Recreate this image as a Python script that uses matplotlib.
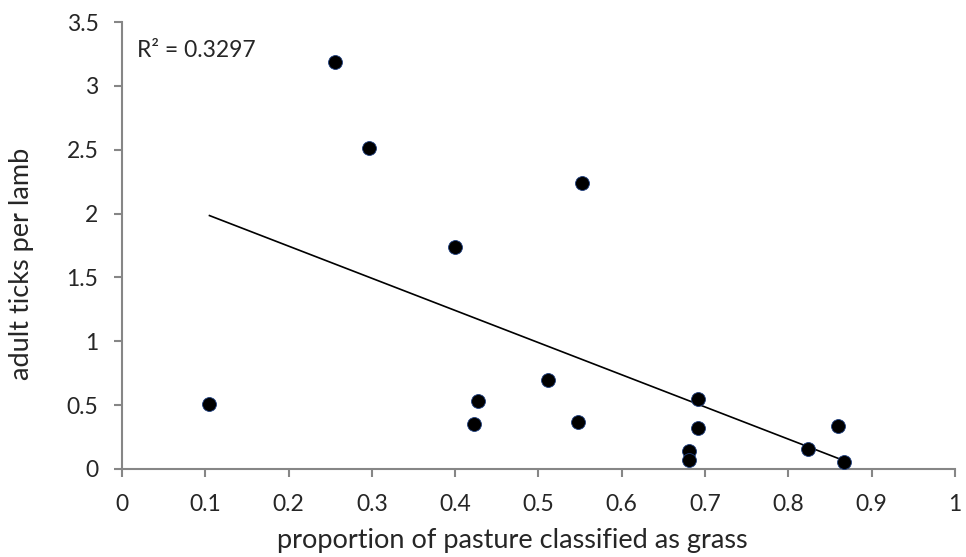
import numpy as np
import matplotlib
matplotlib.use("Agg")
from matplotlib import pyplot as plt

# proportion of pasture classified as grass vs adult ticks per lamb
grass = [0.105, 0.256, 0.297, 0.400, 0.422, 0.427, 0.512, 0.548, 0.552,
         0.681, 0.681, 0.692, 0.692, 0.824, 0.860, 0.867]
ticks = [0.51, 3.19, 2.51, 1.74, 0.35, 0.53, 0.70, 0.37, 2.24,
         0.14, 0.07, 0.55, 0.32, 0.16, 0.34, 0.055]
r2_label = "R² = 0.3297"

x_ticks = [0, 0.1, 0.2, 0.3, 0.4, 0.5, 0.6, 0.7, 0.8, 0.9, 1]
x_ticklabels = ["0", "0.1", "0.2", "0.3", "0.4", "0.5", "0.6", "0.7", "0.8", "0.9", "1"]
y_ticks = [0, 0.5, 1, 1.5, 2, 2.5, 3, 3.5]
y_ticklabels = ["0", "0.5", "1", "1.5", "2", "2.5", "3", "3.5"]

plt.rcParams['font.family'] = ['Lato', 'DejaVu Sans']
TXT = '#262626'
AXC = '#868686'

x = np.array(grass)
y = np.array(ticks)
# linear trendline (least squares), drawn over the data range
slope, intercept = np.polyfit(x, y, 1)
xl = np.array([x.min(), x.max()])

fig = plt.figure(figsize=(9.66, 5.57), dpi=100)
ax = fig.add_axes([0.1263, 0.158, 0.8623, 0.8025])

ax.plot(xl, slope * xl + intercept, color='black', lw=1.2, zorder=2)
ax.plot(x, y, 'o', color='black', markersize=10, markeredgecolor='#1f3f7f',
        markeredgewidth=0.6, zorder=3)

ax.text(0.018, 3.28, r2_label, fontsize=16.5, color=TXT, va='center', ha='left')

ax.set_xlim(0, 1)
ax.set_ylim(0, 3.5)
ax.set_xticks(x_ticks)
ax.set_xticklabels(x_ticklabels)
ax.set_yticks(y_ticks)
ax.set_yticklabels(y_ticklabels)

for s in ['top', 'right']:
    ax.spines[s].set_visible(False)
for s in ['left', 'bottom']:
    ax.spines[s].set_color(AXC)
    ax.spines[s].set_linewidth(1.5)
ax.tick_params(direction='out', length=6, width=1.5, color=AXC,
               labelsize=16.5, labelcolor=TXT)
ax.tick_params(axis='x', pad=12)
ax.tick_params(axis='y', pad=11)

ax.set_xlabel("proportion of pasture classified as grass", fontsize=19.5, color=TXT)
ax.set_ylabel("adult ticks per lamb", fontsize=19.5, color=TXT)
ax.xaxis.set_label_coords(0.468, -0.133)
ax.yaxis.set_label_coords(-0.1056, 0.459)

fig.savefig("out.png", dpi=100)
